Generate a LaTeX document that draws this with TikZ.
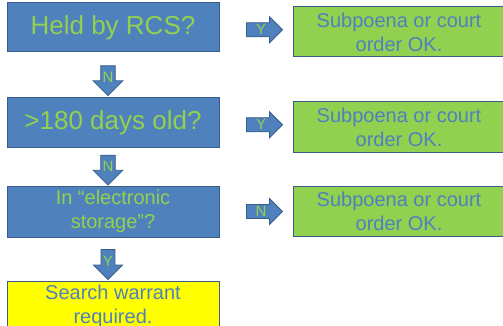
\documentclass[tikz,border=0pt]{standalone}
\usepackage{fontspec}
\setmainfont{Liberation Sans}
\usetikzlibrary{positioning,shapes.arrows}
\definecolor{rcsblue}{HTML}{4F81BD}
\definecolor{rcsedge}{HTML}{385D8A}
\definecolor{rcsgreen}{HTML}{92D050}
\definecolor{rcsyellow}{HTML}{FFFF00}
\tikzset{
  query/.style={draw=rcsedge,line width=1pt,fill=rcsblue,text=rcsgreen,align=center,minimum width=212pt,minimum height=49pt,inner sep=2pt},
  verdict/.style={query,fill=rcsgreen,text=rcsblue,font=\fontsize{20}{24}\selectfont},
  warrant/.style={verdict,fill=rcsyellow},
  blockarrow/.style={single arrow,draw=rcsedge,line width=0.8pt,fill=rcsblue,text=rcsgreen,inner sep=1.5pt,single arrow head indent=0pt,font=\fontsize{15}{15}\selectfont},
  rightarrow/.style={blockarrow,minimum height=36pt,minimum width=26pt,single arrow head extend=6pt},
  downarrow/.style={blockarrow,shape border rotate=270,minimum height=30pt,minimum width=28pt,single arrow head extend=7.5pt}
}
\begin{document}
\begin{tikzpicture}[x=1pt,y=1pt]
  \useasboundingbox (0,0) rectangle (503,-326);
  \node[query,font=\fontsize{26}{31}\selectfont] (rcs) at (113,-27.5) {Held by RCS?};
  \node[query,font=\fontsize{26}{31}\selectfont,below=45pt of rcs] (days) {>180 days old?};
  \node[query,font=\fontsize{20}{24}\selectfont,minimum height=51pt,below=38pt of days] (storage) {In “electronic\\storage”?};
  \node[warrant,minimum height=50pt,below=43pt of storage] (search) {Search warrant\\required.};
  \node[verdict,minimum height=50pt,right=73pt of rcs,yshift=-4.5pt] (okrcs) {Subpoena or court\\order OK.};
  \node[verdict,minimum height=50pt,right=73pt of days,yshift=-4.5pt] (okdays) {Subpoena or court\\order OK.};
  \node[verdict,minimum height=50pt,right=73pt of storage] (okstorage) {Subpoena or court\\order OK.};
  % yes / no arrows
  \path (rcs.east) -- node[rightarrow,xshift=5pt]{Y} (okrcs.west);
  \path (days.east) -- node[rightarrow,xshift=5pt]{Y} (okdays.west);
  \path (storage.east) -- node[rightarrow,xshift=5pt]{N} (okstorage.west);
  \path (rcs.south) -- node[downarrow,xshift=-5pt,yshift=-2pt]{N} (days.north);
  \path (days.south) -- node[downarrow,xshift=-5pt]{N} (storage.north);
  \path (storage.south) -- node[downarrow,xshift=-5pt,yshift=-2pt]{Y} (search.north);
\end{tikzpicture}
\end{document}
